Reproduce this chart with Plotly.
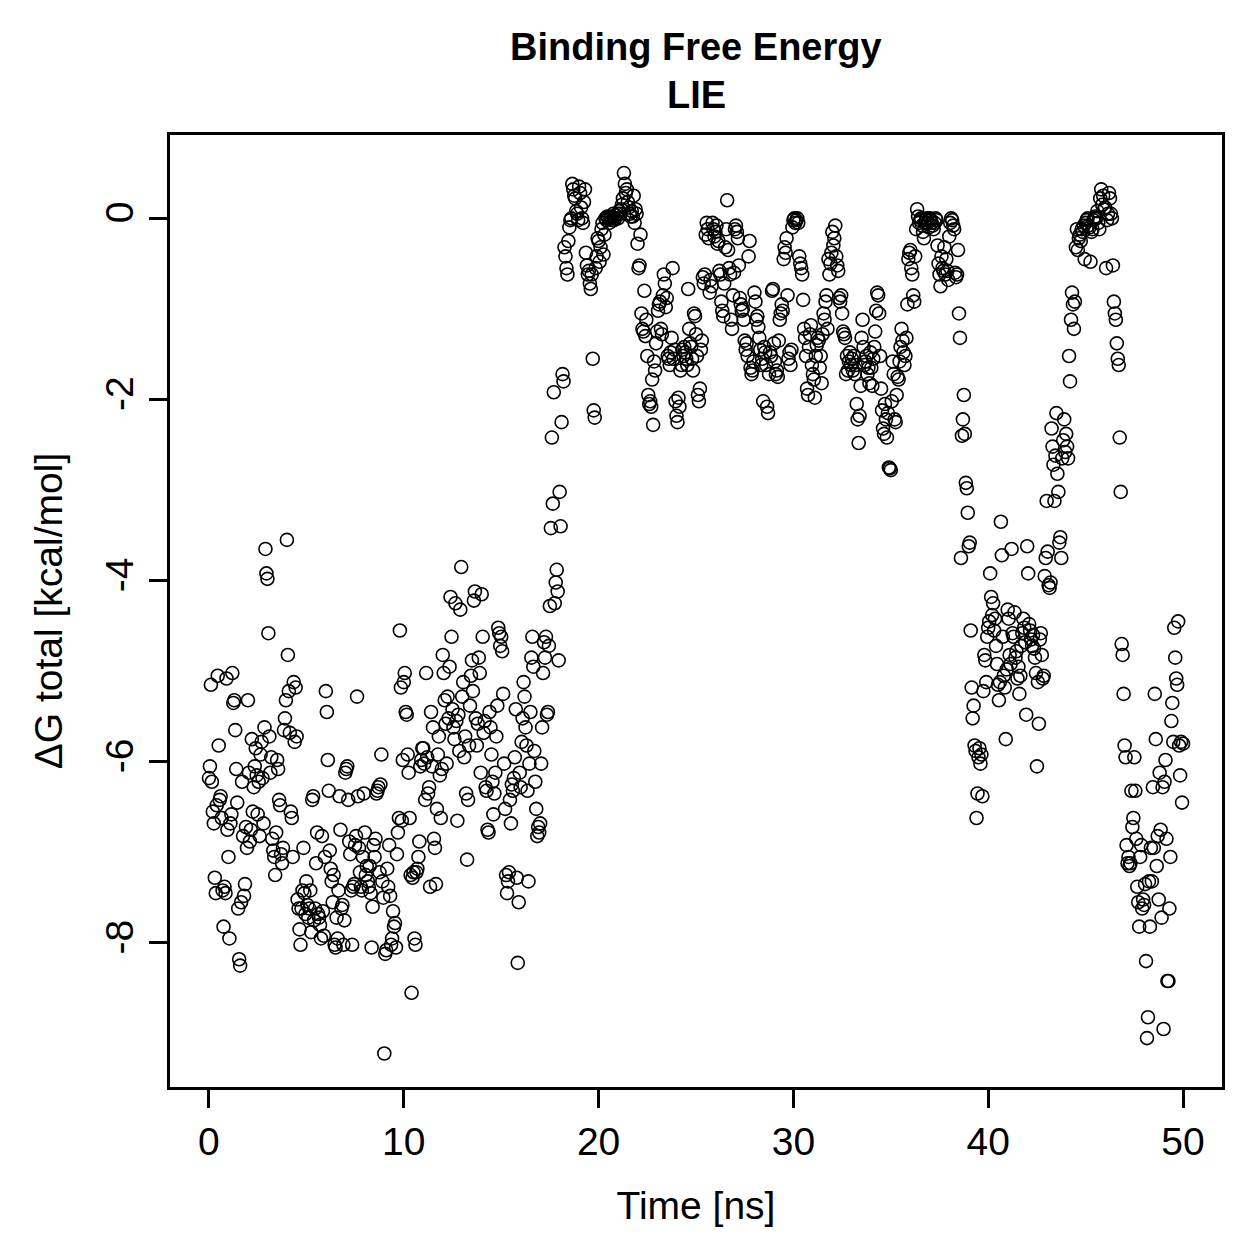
import plotly.graph_objects as go

# Binding free energy (LIE), kcal/mol, sampled every 0.05 ns from 0 to 50 ns
dg_0_10 = [
    -6.18,-6.05,-5.15,-6.22,-6.55,-6.68,-7.28,-7.45,-6.48,-5.05,-5.82,-6.42,-6.38,-6.62,-7.42,-7.82,-7.38,-7.45,-5.08,-6.75,
    -7.05,-7.95,-6.68,-6.58,-5.02,-5.35,-5.32,-5.65,-6.08,-6.45,-7.62,-8.18,-8.25,-7.55,-6.22,-6.82,-7.48,-7.35,-6.72,-6.95,
    -5.32,-6.12,-6.88,-6.75,-5.75,-6.55,-6.28,-6.05,-5.85,-6.15,-6.58,-6.22,-6.82,-5.92,-5.78,-6.18,-6.68,-5.62,-3.65,-3.92,
    -3.98,-4.58,-5.72,-6.12,-5.95,-6.85,-6.98,-7.05,-7.25,-6.78,-5.98,-6.08,-6.42,-6.48,-7.02,-7.12,-6.95,-5.65,-5.52,-5.32,
    -3.55,-4.82,-5.22,-5.68,-6.55,-6.62,-7.05,-5.12,-5.78,-5.18,-5.72,-7.52,-7.62,-7.85,-8.02,-7.62,-7.42,-6.95,-7.45,-7.68,
    -7.32,-7.58,-7.72,-7.62,-7.42,-7.88,-6.42,-6.38,-7.75,-7.62,-7.12,-6.78,-7.68,-7.72,-7.80,-7.95,-6.82,-7.65,-7.92,-7.05,
    -5.22,-5.45,-5.98,-6.32,-6.98,-7.18,-7.32,-7.55,-7.25,-8.02,-8.05,-7.72,-7.95,-7.42,-6.38,-6.75,-7.62,-7.58,-8.02,-7.75,
    -6.12,-6.08,-6.05,-6.42,-6.88,-7.02,-7.42,-8.02,-7.38,-7.35,-6.92,-6.82,-5.28,-6.38,-6.95,-7.22,-7.38,-7.42,-7.05,-6.35,
    -6.78,-7.25,-7.15,-7.32,-7.38,-7.15,-7.45,-8.05,-7.60,-6.92,-7.05,-6.85,-6.35,-6.32,-6.28,-7.22,-6.25,-5.92,-7.32,-7.50,
    -9.22,-8.12,-8.08,-7.18,-7.38,-6.92,-7.48,-8.02,-7.95,-7.65,-7.82,-7.78,-8.05,-7.02,-6.78,-6.62,-4.55,-5.18,-6.65,-5.98,
]
dg_10_20 = [
    -5.12,-5.02,-5.45,-5.48,-5.92,-6.12,-6.62,-7.25,-8.55,-7.28,-7.22,-7.95,-8.02,-7.22,-7.18,-7.05,-6.88,-6.05,-5.98,-5.85,
    -5.85,-6.02,-6.42,-5.02,-5.95,-6.35,-6.28,-7.38,-5.45,-6.05,-5.62,-6.85,-6.95,-7.35,-6.52,-5.92,-5.72,-6.15,-6.62,-6.08,
    -4.82,-5.02,-5.32,-5.58,-6.02,-5.28,-5.52,-4.95,-4.18,-4.62,-5.42,-5.62,-5.75,-4.25,-5.55,-6.65,-5.48,-5.88,-4.32,-3.85,
    -5.28,-5.12,-5.95,-5.72,-6.35,-7.08,-6.42,-5.82,-5.38,-5.05,-4.88,-5.22,-4.22,-4.12,-5.52,-5.82,-5.58,-4.85,-5.02,-6.12,
    -4.15,-4.62,-5.68,-5.55,-6.28,-6.32,-6.75,-6.78,-5.45,-5.62,-5.92,-6.22,-6.58,-6.35,-6.12,-5.72,-5.38,-4.52,-4.58,-4.72,
    -4.62,-4.78,-5.25,-6.02,-6.52,-7.25,-7.45,-7.32,-7.22,-6.42,-6.68,-6.25,-6.32,-6.18,-5.95,-5.42,-7.28,-8.22,-7.55,-6.12,
    -6.28,-5.78,-5.52,-5.12,-5.28,-5.62,-5.82,-6.32,-7.32,-6.02,-5.45,-4.85,-4.62,-4.95,-5.88,-6.22,-6.52,-6.82,-6.72,-6.78,
    -6.68,-6.02,-5.62,-5.02,-4.68,-4.85,-4.62,-5.48,-5.45,-4.72,-4.28,-3.42,-2.42,-3.15,-1.92,-4.25,-4.02,-3.88,-4.12,-4.88,
    -3.02,-3.40,-2.25,-1.72,-1.80,-0.32,-0.42,-0.55,-0.62,-0.25,-0.10,-0.02,0.00,0.38,0.32,0.25,0.22,0.08,0.05,-0.02,
    0.35,0.28,0.12,0.00,-0.05,0.18,0.32,-0.38,-0.52,-0.62,-0.58,-0.72,-0.78,-0.62,-1.55,-2.12,-2.20,-0.55,-0.42,-0.22,
]
dg_20_30 = [
    -0.25,-0.48,-0.32,-0.12,-0.05,-0.40,-0.18,0.00,-0.02,0.02,0.00,-0.05,0.00,0.02,-0.02,0.05,-0.02,0.00,0.03,0.05,
    0.00,0.08,0.05,0.10,0.15,0.22,0.50,0.38,0.28,0.32,0.18,0.12,0.05,0.02,0.08,0.02,0.25,-0.05,0.10,0.05,
    -0.28,-0.55,-0.52,-0.18,-1.05,-1.22,-1.25,-0.80,-1.30,-1.12,-1.52,-1.95,-2.05,-2.02,-2.08,-1.78,-2.28,-1.58,-1.68,-1.38,
    -1.25,-1.02,-0.95,-0.92,-1.22,-1.28,-0.85,-0.62,-0.72,-0.98,-0.88,-1.52,-1.55,-1.62,-1.48,-1.32,-0.55,-1.55,-1.45,-2.02,
    -2.18,-2.25,-1.98,-2.08,-1.68,-1.62,-1.45,-1.52,-1.42,-1.48,-1.55,-1.62,-0.78,-1.22,-1.38,-1.42,-1.55,-1.68,-1.05,-1.08,
    -1.28,-1.52,-1.95,-2.02,-1.88,-1.45,-1.35,-0.65,-0.72,-0.62,-0.18,-0.05,-0.12,-0.22,-0.82,-0.68,-0.75,-0.05,-0.12,-0.20,
    -0.15,-0.08,-0.28,-0.25,-0.58,-0.62,-0.92,-1.02,-1.08,-0.72,-0.32,-0.12,0.20,-0.35,-0.55,-0.62,-1.12,-1.22,-0.85,-0.60,
    -0.12,-0.08,-0.15,-0.22,-0.52,-0.88,-0.95,-1.02,-1.00,-1.12,-1.35,-1.45,-1.38,-1.52,-0.42,-0.25,-1.65,-1.72,-1.68,-1.58,
    -0.82,-0.92,-1.12,-1.08,-1.20,-1.32,-1.45,-1.62,-1.55,-2.02,-1.42,-1.48,-1.62,-2.08,-2.15,-1.72,-1.48,-1.52,-0.80,-0.78,
    -1.38,-1.58,-1.72,-1.68,-1.75,-1.35,-1.12,-1.05,-0.95,-1.02,-0.45,-0.32,-0.38,-0.22,-0.85,-1.55,-1.48,-1.62,-1.45,-0.10,
]
dg_30_40 = [
    -0.02,0.00,-0.05,-0.02,0.00,-0.05,-0.42,-0.50,-0.55,-0.62,-0.90,-1.22,-1.32,-1.52,-1.88,-1.95,-1.42,-1.28,-1.18,-1.62,
    -1.72,-1.78,-1.98,-1.52,-1.40,-1.32,-1.35,-1.65,-1.52,-1.82,-1.28,-1.05,-1.12,-0.92,-0.85,-1.22,-0.45,-0.62,-0.50,-0.38,
    -0.15,-0.30,-0.22,-0.08,-0.42,-0.52,-0.58,-0.88,-0.92,-0.85,-1.05,-1.25,-1.28,-1.32,-1.72,-1.52,-1.68,-1.58,-1.48,-1.62,
    -1.55,-1.68,-1.52,-1.72,-1.62,-2.05,-2.22,-2.48,-2.18,-1.85,-1.32,-1.12,-1.42,-1.62,-1.58,-1.52,-1.72,-1.65,-1.82,-1.48,
    -1.65,-1.85,-1.55,-1.42,-1.25,-1.02,-0.82,-0.85,-1.05,-1.52,-1.88,-2.12,-2.32,-2.38,-2.05,-2.22,-2.42,-2.15,-2.75,-2.76,
    -2.78,-2.02,-1.58,-1.72,-2.22,-2.25,-1.95,-1.75,-1.78,-1.58,-1.42,-1.22,-1.35,-1.48,-1.62,-1.52,-1.32,-0.95,-0.45,-0.38,
    -0.35,-0.55,-0.62,-0.85,-0.92,-0.42,-0.12,0.10,0.02,-0.05,-0.02,0.00,-0.08,-0.15,-0.22,-0.05,-0.02,0.00,-0.05,-0.10,
    0.00,-0.02,-0.05,-0.08,-0.12,-0.05,0.00,-0.02,-0.30,-0.50,-0.62,-0.75,-0.42,-0.55,-0.58,-0.32,-0.62,-0.45,-0.58,-0.68,
    -0.20,-0.05,0.00,-0.02,-0.08,-0.12,-0.60,-0.65,-0.62,-0.35,-1.05,-1.32,-3.75,-2.40,-2.22,-1.95,-2.38,-2.92,-2.98,-3.25,
    -3.62,-3.58,-4.55,-5.18,-5.52,-5.38,-5.82,-5.88,-6.62,-6.35,-5.95,-5.85,-6.02,-5.92,-6.38,-5.22,-4.82,-4.88,-5.12,-4.62,
]
dg_40_50 = [
    -4.52,-4.45,-3.92,-4.18,-4.38,-4.25,-4.55,-4.42,-4.72,-4.92,-5.15,-5.32,-5.12,-3.35,-3.72,-4.62,-5.05,-5.18,-5.75,-4.98,
    -4.32,-4.42,-4.82,-4.92,-3.65,-4.58,-4.62,-4.35,-4.85,-4.78,-5.08,-4.95,-5.25,-5.05,-4.72,-4.58,-4.42,-4.52,-4.68,-5.48,
    -3.62,-3.92,-4.48,-4.55,-4.65,-4.72,-4.60,-4.75,-4.85,-5.02,-6.05,-5.12,-5.58,-4.65,-4.58,-4.82,-5.08,-5.05,-3.95,-3.75,
    -3.12,-3.68,-4.05,-4.08,-4.02,-2.32,-2.52,-2.72,-3.12,-2.62,-2.15,-2.82,-3.02,-3.58,-3.52,-3.75,-2.65,-2.45,-2.22,-2.58,
    -2.38,-2.52,-2.65,-1.52,-1.80,-1.12,-0.82,-0.95,-1.22,-0.92,-0.32,-0.12,-0.35,-0.22,-0.18,-0.25,-0.12,-0.15,-0.08,-0.45,
    -0.05,-0.02,0.00,-0.08,-0.10,-0.48,-0.15,-0.12,-0.02,0.00,0.02,0.00,0.08,-0.05,-0.12,0.22,0.32,0.15,0.25,0.10,
    0.12,-0.55,-0.02,0.05,0.28,0.22,0.05,0.00,-0.52,-0.92,-1.05,-1.12,-1.38,-1.55,-1.62,-2.42,-3.02,-4.70,-4.82,-5.25,
    -5.82,-5.95,-6.92,-7.12,-7.05,-7.15,-7.12,-6.32,-6.72,-6.62,-5.95,-6.32,-6.85,-7.38,-7.55,-7.82,-7.05,-6.92,-7.62,-7.52,
    -7.58,-7.35,-8.20,-9.05,-8.82,-7.32,-7.82,-6.95,-7.32,-6.28,-6.95,-5.25,-5.75,-7.15,-6.82,-7.52,-6.12,-6.75,-7.72,-6.28,
    -8.95,-6.22,-5.98,-6.85,-8.42,-8.42,-7.62,-7.05,-5.55,-5.35,-5.78,-4.52,-4.85,-5.08,-5.15,-4.45,-5.82,-6.15,-5.78,-6.45,
    -5.80,
]

x_ticks = [0, 10, 20, 30, 40, 50]
y_ticks = [-8, -6, -4, -2, 0]
title_lines = ["Binding Free Energy", "LIE"]

dg = dg_0_10 + dg_10_20 + dg_20_30 + dg_30_40 + dg_40_50
n = len(dg)
time_ns = [50.0 * i / (n - 1) for i in range(n)]

FONT = "Liberation Sans, Arial, Helvetica, sans-serif"

fig = go.Figure()
fig.add_trace(go.Scatter(
    x=time_ns, y=dg, mode="markers",
    marker=dict(symbol="circle-open", size=13, color="black", line=dict(width=1.6)),
    showlegend=False, hoverinfo="x+y",
))

axis_common = dict(
    showgrid=False, zeroline=False, showline=True, mirror=True,
    linecolor="black", linewidth=3, ticks="outside", ticklen=18,
    tickwidth=3, tickcolor="black",
    tickfont=dict(family=FONT, size=39, color="black"),
)

# plot area: 952 px tall, its top at y=135 from the top of the page
for line_text, y_paper in zip(title_lines, [1.0924, 1.0420]):
    fig.add_annotation(
        text="<b>" + line_text + "</b>", xref="paper", yref="paper",
        x=0.5, y=y_paper, xanchor="center", yanchor="middle", showarrow=False,
        font=dict(family=FONT, size=38, color="black"),
    )

fig.update_layout(
    width=1259, height=1259,
    margin=dict(l=170, r=37, t=135, b=172),
    paper_bgcolor="white", plot_bgcolor="white",
    font=dict(family=FONT, color="black"),
    xaxis=dict(
        range=[-2, 52], tickvals=x_ticks, ticktext=[str(v) for v in x_ticks],
        title=dict(text="Time [ns]", font=dict(family=FONT, size=39), standoff=30),
        **axis_common,
    ),
    yaxis=dict(
        range=[-9.59, 0.92], tickvals=y_ticks, ticktext=[str(v) for v in y_ticks],
        tickangle=-90,
        title=dict(text="ΔG total [kcal/mol]", font=dict(family=FONT, size=39), standoff=24),
        **axis_common,
    ),
)

fig.write_html("out.html")
